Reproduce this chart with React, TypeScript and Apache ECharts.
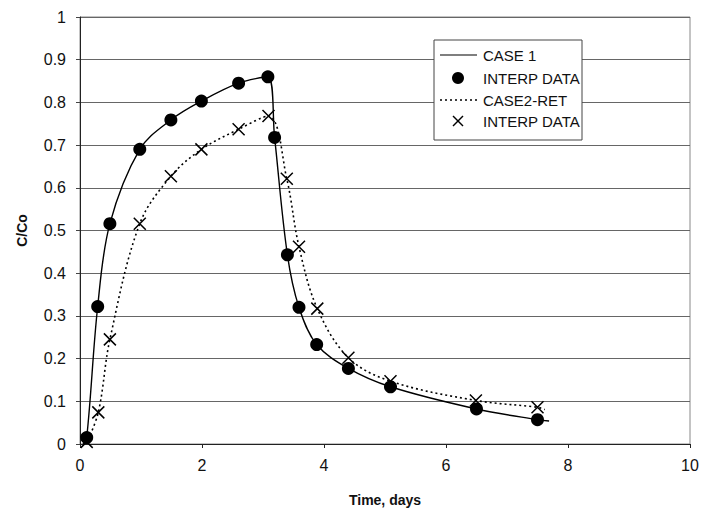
import React, { useEffect, useRef } from "react";
import * as echarts from "echarts";

const xTicks = [0, 2, 4, 6, 8, 10];
const yTicks = [0, 0.1, 0.2, 0.3, 0.4, 0.5, 0.6, 0.7, 0.8, 0.9, 1];

const case1Curve: [number, number][] = [
  [0.05, 0], [0.11, 0.015], [0.29, 0.322], [0.49, 0.516], [0.98, 0.69],
  [1.49, 0.759], [1.99, 0.803], [2.6, 0.845], [3.08, 0.86], [3.19, 0.718],
  [3.4, 0.443], [3.59, 0.32], [3.88, 0.233], [4.4, 0.177], [5.09, 0.134],
  [6.5, 0.082], [7.5, 0.057], [7.69, 0.054],
];
const case1Data: [number, number][] = [
  [0.11, 0.015], [0.29, 0.322], [0.49, 0.516], [0.98, 0.69], [1.49, 0.759],
  [1.99, 0.803], [2.6, 0.845], [3.08, 0.86], [3.19, 0.718], [3.4, 0.443],
  [3.59, 0.32], [3.88, 0.233], [4.4, 0.177], [5.09, 0.134], [6.5, 0.082],
  [7.5, 0.057],
];
const case2Curve: [number, number][] = [
  [0.1, 0], [0.3, 0.074], [0.49, 0.245], [0.98, 0.516], [1.49, 0.627],
  [1.99, 0.69], [2.6, 0.737], [3.09, 0.768], [3.39, 0.621], [3.59, 0.462],
  [3.89, 0.317], [4.4, 0.202], [5.09, 0.147], [6.49, 0.102], [7.5, 0.086],
  [7.62, 0.081],
];
const case2Data: [number, number][] = [
  [0.11, 0.005], [0.3, 0.074], [0.49, 0.245], [0.98, 0.516], [1.49, 0.627],
  [1.99, 0.69], [2.6, 0.737], [3.09, 0.768], [3.39, 0.621], [3.59, 0.462],
  [3.89, 0.317], [4.4, 0.202], [5.09, 0.147], [6.49, 0.102], [7.5, 0.086],
];
const legendLabels = ["CASE 1", "INTERP DATA", "CASE2-RET", "INTERP DATA"];

const FONT = "'Liberation Sans', Arial, sans-serif";
const CROSS = "path://M0,0L10,10M10,0L0,10";

export default function App() {
  const ref = useRef<HTMLDivElement>(null);
  useEffect(() => {
    if (!ref.current) return;
    const chart = echarts.init(ref.current, undefined, { renderer: "svg" });
    const lx = 440, tx = 483;
    const rows = [55, 78, 100, 121];
    chart.setOption({
      animation: false,
      backgroundColor: "#fff",
      grid: { left: 80, right: 20, top: 17, bottom: 65, show: true, borderColor: "#888", borderWidth: 1 },
      xAxis: {
        type: "value",
        min: xTicks[0],
        max: xTicks[xTicks.length - 1],
        interval: 2,
        name: "Time, days",
        nameLocation: "middle",
        nameGap: 49,
        nameTextStyle: { fontFamily: FONT, fontWeight: "bold", fontSize: 14, color: "#111" },
        axisLine: { show: true, lineStyle: { color: "#222", width: 1 } },
        axisTick: { show: true, inside: false, length: 4, lineStyle: { color: "#222" } },
        axisLabel: { margin: 13, fontFamily: FONT, fontSize: 16, color: "#111" },
        splitLine: { show: false },
      },
      yAxis: {
        type: "value",
        min: yTicks[0],
        max: yTicks[yTicks.length - 1],
        interval: 0.1,
        name: "C/Co",
        nameLocation: "middle",
        nameGap: 51,
        nameTextStyle: { fontFamily: FONT, fontWeight: "bold", fontSize: 14, color: "#111" },
        axisLine: { show: true, lineStyle: { color: "#222", width: 1 } },
        axisTick: { show: true, inside: false, length: 4, lineStyle: { color: "#444" } },
        axisLabel: { margin: 14, fontFamily: FONT, fontSize: 16, color: "#111" },
        splitLine: { show: true, lineStyle: { color: "#666", width: 1 } },
      },
      series: [
        {
          type: "line",
          name: "CASE 1",
          data: case1Curve,
          smooth: 0.35,
          showSymbol: false,
          lineStyle: { color: "#000", width: 1.4 },
          z: 3,
        },
        {
          type: "scatter",
          name: "INTERP DATA",
          data: case1Data,
          symbol: "circle",
          symbolSize: 13,
          itemStyle: { color: "#000", opacity: 1 },
          z: 4,
        },
        {
          type: "line",
          name: "CASE2-RET",
          data: case2Curve,
          smooth: 0.35,
          showSymbol: false,
          lineStyle: { color: "#000", width: 1.6, type: [2, 3] },
          z: 3,
        },
        {
          type: "scatter",
          name: "INTERP DATA 2",
          data: case2Data,
          symbol: CROSS,
          symbolSize: 12,
          itemStyle: { color: "rgba(0,0,0,0)", borderColor: "#000", borderWidth: 1.5, opacity: 1 },
          z: 4,
        },
      ],
      graphic: [
        {
          type: "rect",
          shape: { x: 434, y: 40, width: 148, height: 100 },
          style: { fill: "#fff", stroke: "#444", lineWidth: 1 },
          z: 10,
        },
        {
          type: "line",
          shape: { x1: lx, y1: rows[0], x2: lx + 37, y2: rows[0] },
          style: { stroke: "#000", lineWidth: 1.2 },
          z: 11,
        },
        {
          type: "circle",
          shape: { cx: lx + 18, cy: rows[1], r: 6 },
          style: { fill: "#000" },
          z: 11,
        },
        {
          type: "line",
          shape: { x1: lx, y1: rows[2], x2: lx + 37, y2: rows[2] },
          style: { stroke: "#000", lineWidth: 1.4, lineDash: [2, 3] },
          z: 11,
        },
        {
          type: "line",
          shape: { x1: lx + 13, y1: rows[3] - 5, x2: lx + 23, y2: rows[3] + 5 },
          style: { stroke: "#000", lineWidth: 1.4 },
          z: 11,
        },
        {
          type: "line",
          shape: { x1: lx + 23, y1: rows[3] - 5, x2: lx + 13, y2: rows[3] + 5 },
          style: { stroke: "#000", lineWidth: 1.4 },
          z: 11,
        },
        ...legendLabels.map((t, i) => ({
          type: "text",
          x: tx,
          y: rows[i],
          style: {
            text: t,
            fontFamily: FONT,
            fontSize: 15,
            fill: "#111",
            verticalAlign: "middle",
            textAlign: "left",
          },
          z: 11,
        })),
      ],
    });
    return () => chart.dispose();
  }, []);
  return (
    <div
      ref={ref}
      style={{ position: "fixed", left: 0, top: 0, width: 710, height: 512 }}
    />
  );
}
